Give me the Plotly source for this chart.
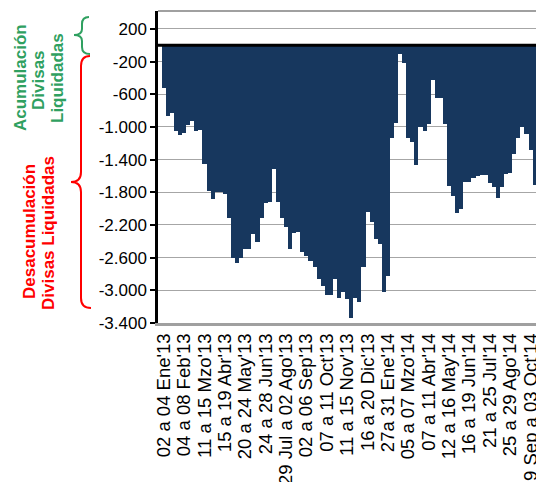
import plotly.graph_objects as go

# ---- data ----
week_idx = list(range(92))
values = [
    -520, -860, -830, -1050, -1100, -1070, -975, -930, -1050, -1035,
    -1450, -1780, -1885, -1800, -1795, -1815, -2120, -2600, -2665, -2605,
    -2500, -2500, -2310, -2410, -2120, -1930, -1920, -1515, -1915, -2120,
    -2230, -2490, -2300, -2285, -2535, -2575, -2645, -2710, -2865, -2945,
    -3060, -3060, -2865, -3090, -3020, -3100, -3340, -3090, -3145, -2710,
    -2045, -2160, -2375, -2430, -3020, -2825, -1140, -950, -105, -215,
    -1130, -1180, -1465, -1005, -1045, -960, -420, -645, -640, -965,
    -1720, -1845, -2055, -2000, -1675, -1670, -1625, -1600, -1590, -1590,
    -1690, -1740, -1865, -1730, -1570, -1565, -1330, -1140, -1005, -1085,
    -1285, -1705,
]
tick_pos = list(range(0, 92, 5))
tick_labels = [
    "02 a 04 Ene'13", "04 a 08 Feb'13", "11 a 15 Mzo'13", "15 a 19 Abr'13",
    "20 a 24 May'13", "24 a 28 Jun'13", "29 Jul a 02 Ago'13", "02 a 06 Sep'13",
    "07 a 11 Oct'13", "11 a 15 Nov'13", "16 a 20 Dic'13", "27a 31 Ene'14",
    "05 a 07 Mzo'14", "07 a 11 Abr'14", "12 a 16 May'14", "16 a 19 Jun'14",
    "21 a 25 Jul'14", "25 a 29 Ago'14", "29 Sep a 03 Oct'14",
]
y_ticks = [200, -200, -600, -1000, -1400, -1800, -2200, -2600, -3000, -3400]
y_tick_text = ["200", "-200", "-600", "-1.000", "-1.400", "-1.800", "-2.200",
               "-2.600", "-3.000", "-3.400"]

W, H = 536, 482
PLOT_X0, PLOT_X1, PLOT_Y0, PLOT_Y1 = 158, 536, 11, 323   # page pixels
L, T = PLOT_X0, PLOT_Y0
PW, PH = PLOT_X1 - PLOT_X0, PLOT_Y1 - PLOT_Y0
R = W - L - PW
B = H - T - PH
FONT = "Liberation Sans, Arial, sans-serif"


def px2paper(px, py):
    return (px - PLOT_X0) / PW, (PLOT_Y1 - py) / PH


def path_from(cmds):
    out = []
    for c, pts in cmds:
        coords = " ".join("%.5f,%.5f" % px2paper(x, y) for x, y in pts)
        out.append(c + " " + coords)
    return " ".join(out)


fig = go.Figure()
fig.add_trace(go.Bar(x=week_idx, y=values, width=1.0,
                     marker=dict(color="#17375E", line=dict(width=0))))

green_brace = path_from([
    ("M", [(89, 17)]), ("Q", [(82, 17), (82, 24)]), ("L", [(82, 29)]),
    ("Q", [(82, 35), (74, 35)]), ("Q", [(82, 35), (82, 41)]),
    ("L", [(82, 47)]), ("Q", [(82, 54), (90, 54)]),
])
red_brace = path_from([
    ("M", [(90, 56)]), ("Q", [(81, 56), (81, 66)]), ("L", [(81, 172)]),
    ("Q", [(81, 182), (71, 182)]), ("Q", [(81, 182), (81, 192)]),
    ("L", [(81, 298)]), ("Q", [(81, 308), (91, 308)]),
])

shapes = [
    dict(type="line", xref="paper", yref="y", x0=0, x1=1, y0=0, y1=0,
         line=dict(color="black", width=3), layer="above"),
    dict(type="line", xref="paper", yref="paper", x0=0, x1=1, y0=1, y1=1,
         line=dict(color="#A0A0A0", width=2), layer="above"),
    dict(type="path", xref="paper", yref="paper", path=green_brace,
         line=dict(color="#2FA060", width=2)),
    dict(type="path", xref="paper", yref="paper", path=red_brace,
         line=dict(color="#FF0000", width=2)),
]

annotations = []
for txt, px, py, col in [
    ("Acumulación", 20, 78, "#2FA060"),
    ("Divisas", 38, 80, "#2FA060"),
    ("Liquidadas", 57, 78, "#2FA060"),
    ("Desacumulación", 30, 232, "#FF0000"),
    ("Divisas Liquidadas", 48, 233, "#FF0000"),
]:
    ax, ay = px2paper(px, py)
    annotations.append(dict(text="<b>%s</b>" % txt, x=ax, y=ay, xref="paper",
                            yref="paper", showarrow=False, textangle=-90,
                            xanchor="center", yanchor="middle",
                            font=dict(family=FONT, size=17, color=col)))

fig.update_layout(
    width=W, height=H,
    margin=dict(l=L, r=R, t=T, b=B, pad=0, autoexpand=False),
    paper_bgcolor="white", plot_bgcolor="white",
    bargap=0, showlegend=False,
    font=dict(family=FONT, color="black"),
    shapes=shapes, annotations=annotations,
    xaxis=dict(range=[-1.41, 91.33], tickmode="array", tickvals=tick_pos,
               ticktext=tick_labels, tickangle=-90, showgrid=False,
               showline=True, linecolor="#A0A0A0", linewidth=3, ticks="",
               ticklabeloverflow="allow",
               tickfont=dict(family=FONT, size=18.5, color="black"),
               automargin=False, fixedrange=True),
    yaxis=dict(range=[-3400, 420], tickmode="array", tickvals=y_ticks,
               ticktext=y_tick_text, showline=True, linecolor="black",
               linewidth=2.5, ticks="outside", ticklen=5, tickwidth=2,
               tickcolor="black", showgrid=True, gridcolor="#A6A6A6",
               gridwidth=1, zeroline=False,
               tickfont=dict(family=FONT, size=17, color="black"),
               automargin=False, fixedrange=True),
)

fig.write_html(
    "out.html",
    config={"displayModeBar": False},
    post_script="document.body.style.margin='0px';"
                "document.body.style.overflow='hidden';",
)
